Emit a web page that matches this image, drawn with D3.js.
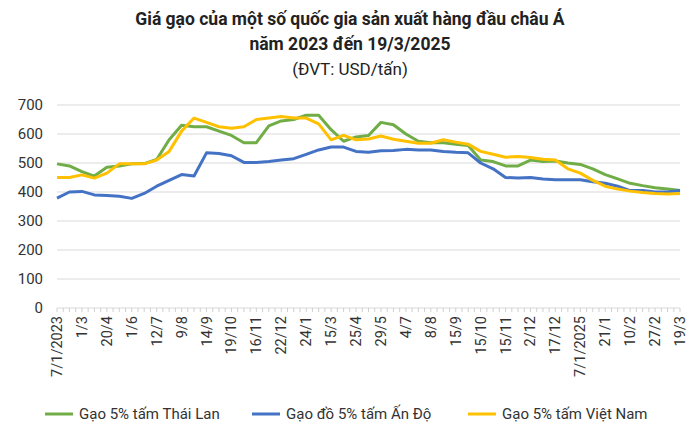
<!DOCTYPE html>
<html>
<head>
<meta charset="utf-8">
<style>
  body { margin: 0; background: #fff; font-family: Roboto, "Noto Sans", sans-serif; }
</style>
</head>
<body>
<div id="chart"></div>
<script src="https://cdn.jsdelivr.net/npm/d3@7/dist/d3.min.js"></script>
<script>
  // nhãn trục x (mỗi nhãn cách nhau 2 điểm dữ liệu)
  const labels = ['7/1/2023','1/3','20/4','1/6','12/7','9/8','14/9','19/10','16/11','22/12','24/1','15/3',
                  '25/4','29/5','4/7','8/8','15/9','15/10','15/11','2/12','17/12','7/1/2025','21/1','10/2','27/2','19/3'];
  const thai = [497,490,470,455,485,490,497,498,512,580,630,625,625,610,595,570,570,628,645,650,665,665,615,575,590,
                595,640,632,600,575,570,570,565,560,510,505,490,490,510,505,507,500,495,480,460,445,430,422,415,410,405];
  const india = [379,400,402,390,388,385,378,395,420,440,460,455,535,533,525,502,502,505,510,515,530,545,555,555,540,
                 537,542,543,547,545,545,540,537,535,500,480,450,448,450,445,442,442,442,435,430,420,405,405,400,400,405];
  const vietnam = [450,450,459,448,465,497,497,497,510,540,610,655,640,625,620,625,650,655,660,655,655,635,580,595,580,
                   583,593,582,575,568,568,580,572,565,540,530,520,522,519,513,510,480,465,440,420,410,403,398,395,393,395];
  const yTicks = [0,100,200,300,400,500,600,700];

  const series = [
    {name: 'Gạo 5% tấm Thái Lan', values: thai, color: '#70AD47'},
    {name: 'Gạo đồ 5% tấm Ấn Độ', values: india, color: '#4472C4'},
    {name: 'Gạo 5% tấm Việt Nam', values: vietnam, color: '#FFC000'}
  ];

  const W = 700, H = 440;
  const m = {left: 57, right: 20, top: 105, bottom: 132};
  const svg = d3.select('#chart').append('svg').attr('width', W).attr('height', H);

  const n = thai.length;
  const x = d3.scaleLinear().domain([0, n - 1]).range([m.left, W - m.right]);
  const y = d3.scaleLinear().domain([0, 700]).range([H - m.bottom, m.top]);

  // tiêu đề
  const title = svg.append('text').attr('text-anchor', 'middle').attr('fill', '#222');
  title.append('tspan').attr('x', W / 2).attr('y', 25).attr('font-size', 17.5).attr('font-weight', 'bold')
       .text('Giá gạo của một số quốc gia sản xuất hàng đầu châu Á');
  title.append('tspan').attr('x', W / 2).attr('y', 50).attr('font-size', 17.5).attr('font-weight', 'bold')
       .text('năm 2023 đến 19/3/2025');
  title.append('tspan').attr('x', W / 2).attr('y', 75).attr('font-size', 17)
       .text('(ĐVT: USD/tấn)');

  // lưới + trục y
  svg.append('g')
     .selectAll('line').data(yTicks.slice(1)).enter().append('line')
     .attr('x1', m.left).attr('x2', W - m.right)
     .attr('y1', d => y(d)).attr('y2', d => y(d))
     .attr('stroke', '#d9d9d9');
  svg.append('g')
     .selectAll('text').data(yTicks).enter().append('text')
     .attr('x', m.left - 14).attr('y', d => y(d)).attr('dy', '0.35em')
     .attr('text-anchor', 'end').attr('font-size', 15).attr('fill', '#333')
     .text(d => d);

  // trục x
  const xa = svg.append('g').attr('transform', `translate(0,${y(0)})`);
  xa.append('line').attr('x1', m.left).attr('x2', W - m.right).attr('stroke', '#d9d9d9');
  xa.selectAll('line.t').data(d3.range(n * 2 - 1)).enter().append('line').attr('class', 't')
    .attr('x1', d => x(d / 2)).attr('x2', d => x(d / 2)).attr('y1', 0).attr('y2', 4)
    .attr('stroke', '#d0d0d0');
  xa.selectAll('text').data(labels).enter().append('text')
    .attr('transform', (d, i) => `translate(${x(i * 2) + 5},8) rotate(-90)`)
    .attr('text-anchor', 'end').attr('font-size', 14.5).attr('fill', '#333')
    .text(d => d);

  // đường
  const line = d3.line().x((d, i) => x(i)).y(d => y(d));
  svg.selectAll('path.s').data(series).enter().append('path').attr('class', 's')
     .attr('d', d => line(d.values))
     .attr('fill', 'none').attr('stroke', d => d.color)
     .attr('stroke-width', 3).attr('stroke-linejoin', 'round');

  // chú giải
  const lx = [45, 252, 468];
  const lg = svg.selectAll('g.lg').data(series).enter().append('g').attr('class', 'lg')
     .attr('transform', (d, i) => `translate(${lx[i]},414)`);
  lg.append('line').attr('x1', 0).attr('x2', 28).attr('stroke', d => d.color).attr('stroke-width', 3);
  lg.append('text').attr('x', 34).attr('dy', '0.35em').attr('font-size', 15).attr('fill', '#333')
    .text(d => d.name);
</script>
</body>
</html>
